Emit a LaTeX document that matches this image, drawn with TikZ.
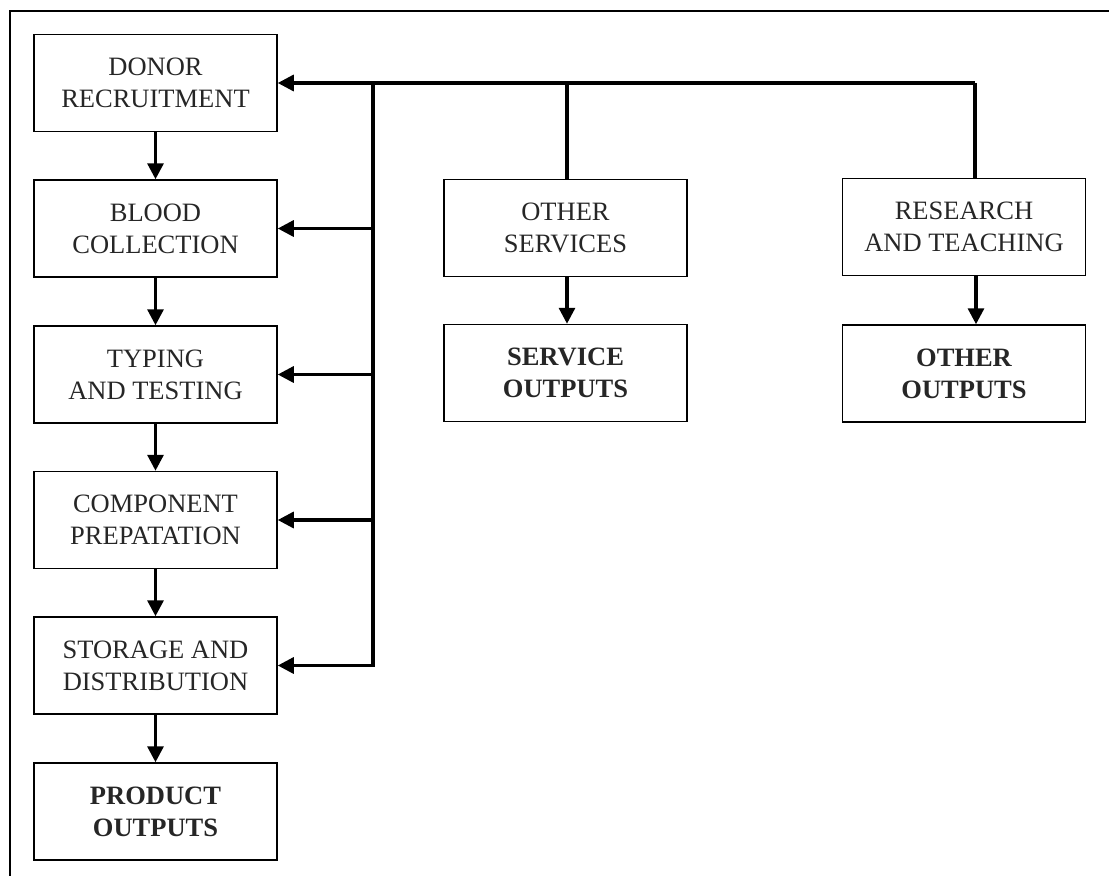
\documentclass[tikz,border=0pt]{standalone}
\usepackage{fontspec}
\setmainfont{Liberation Serif}
\usetikzlibrary{arrows.meta}
\begin{document}
\begin{tikzpicture}[x=1pt,y=-1pt,
  box/.style={draw,line width=1.5pt,minimum width=243pt,minimum height=97pt,inner sep=0pt,align=center,
    font=\fontsize{26.5}{32}\selectfont,text=black!85},
  outbox/.style={box,font=\fontsize{26.5}{32}\selectfont\bfseries},
  conn/.style={line width=3.2pt},
  arr/.style={line width=3.2pt,-{Triangle[length=16pt,width=16pt]}},
  frame/.style={line width=2pt}]
\useasboundingbox (0,0) rectangle (1109,876);
\draw[frame] (1109,11) -- (10,11) -- (10,876);
% left column
\node[box] (don) at (155.5,83) {DONOR\\RECRUITMENT};
\node[box] (blo) at (155.5,228.5) {BLOOD\\COLLECTION};
\node[box] (typ) at (155.5,374.5) {TYPING\\AND TESTING};
\node[box] (com) at (155.5,520) {COMPONENT\\PREPATATION};
\node[box] (sto) at (155.5,665.5) {STORAGE AND\\DISTRIBUTION};
\node[outbox] (pro) at (155.5,811.5) {PRODUCT\\OUTPUTS};
% middle column
\node[box] (oth) at (565.5,228) {OTHER\\SERVICES};
\node[outbox] (ser) at (565.5,373) {SERVICE\\OUTPUTS};
% right column
\node[box] (res) at (964,227) {RESEARCH\\AND TEACHING};
\node[outbox] (oou) at (964,373.5) {OTHER\\OUTPUTS};
% vertical chain arrows
\foreach \a/\b in {don/blo,blo/typ,typ/com,com/sto,sto/pro}
  \draw[arr] (\a.south) -- (\b.north);
\draw[arr] (oth.south -| 567,0) -- (ser.north -| 567,0);
\draw[arr] (res.south -| 976,0) -- (oou.north -| 976,0);
% bus
\coordinate (tr) at (975,83);
\coordinate (tm) at (567,83);
\coordinate (bt) at (373,83);
\draw[arr] (tr) -- (don.east);
\draw[conn] (res.north -| tr) -- (tr);
\draw[conn] (tm) -- (oth.north -| tm);
\foreach \n in {blo,typ,com}
  \draw[arr] (\n.east -| bt) -- (\n.east);
\draw[arr] (bt) |- (sto.east);
\end{tikzpicture}
\end{document}
